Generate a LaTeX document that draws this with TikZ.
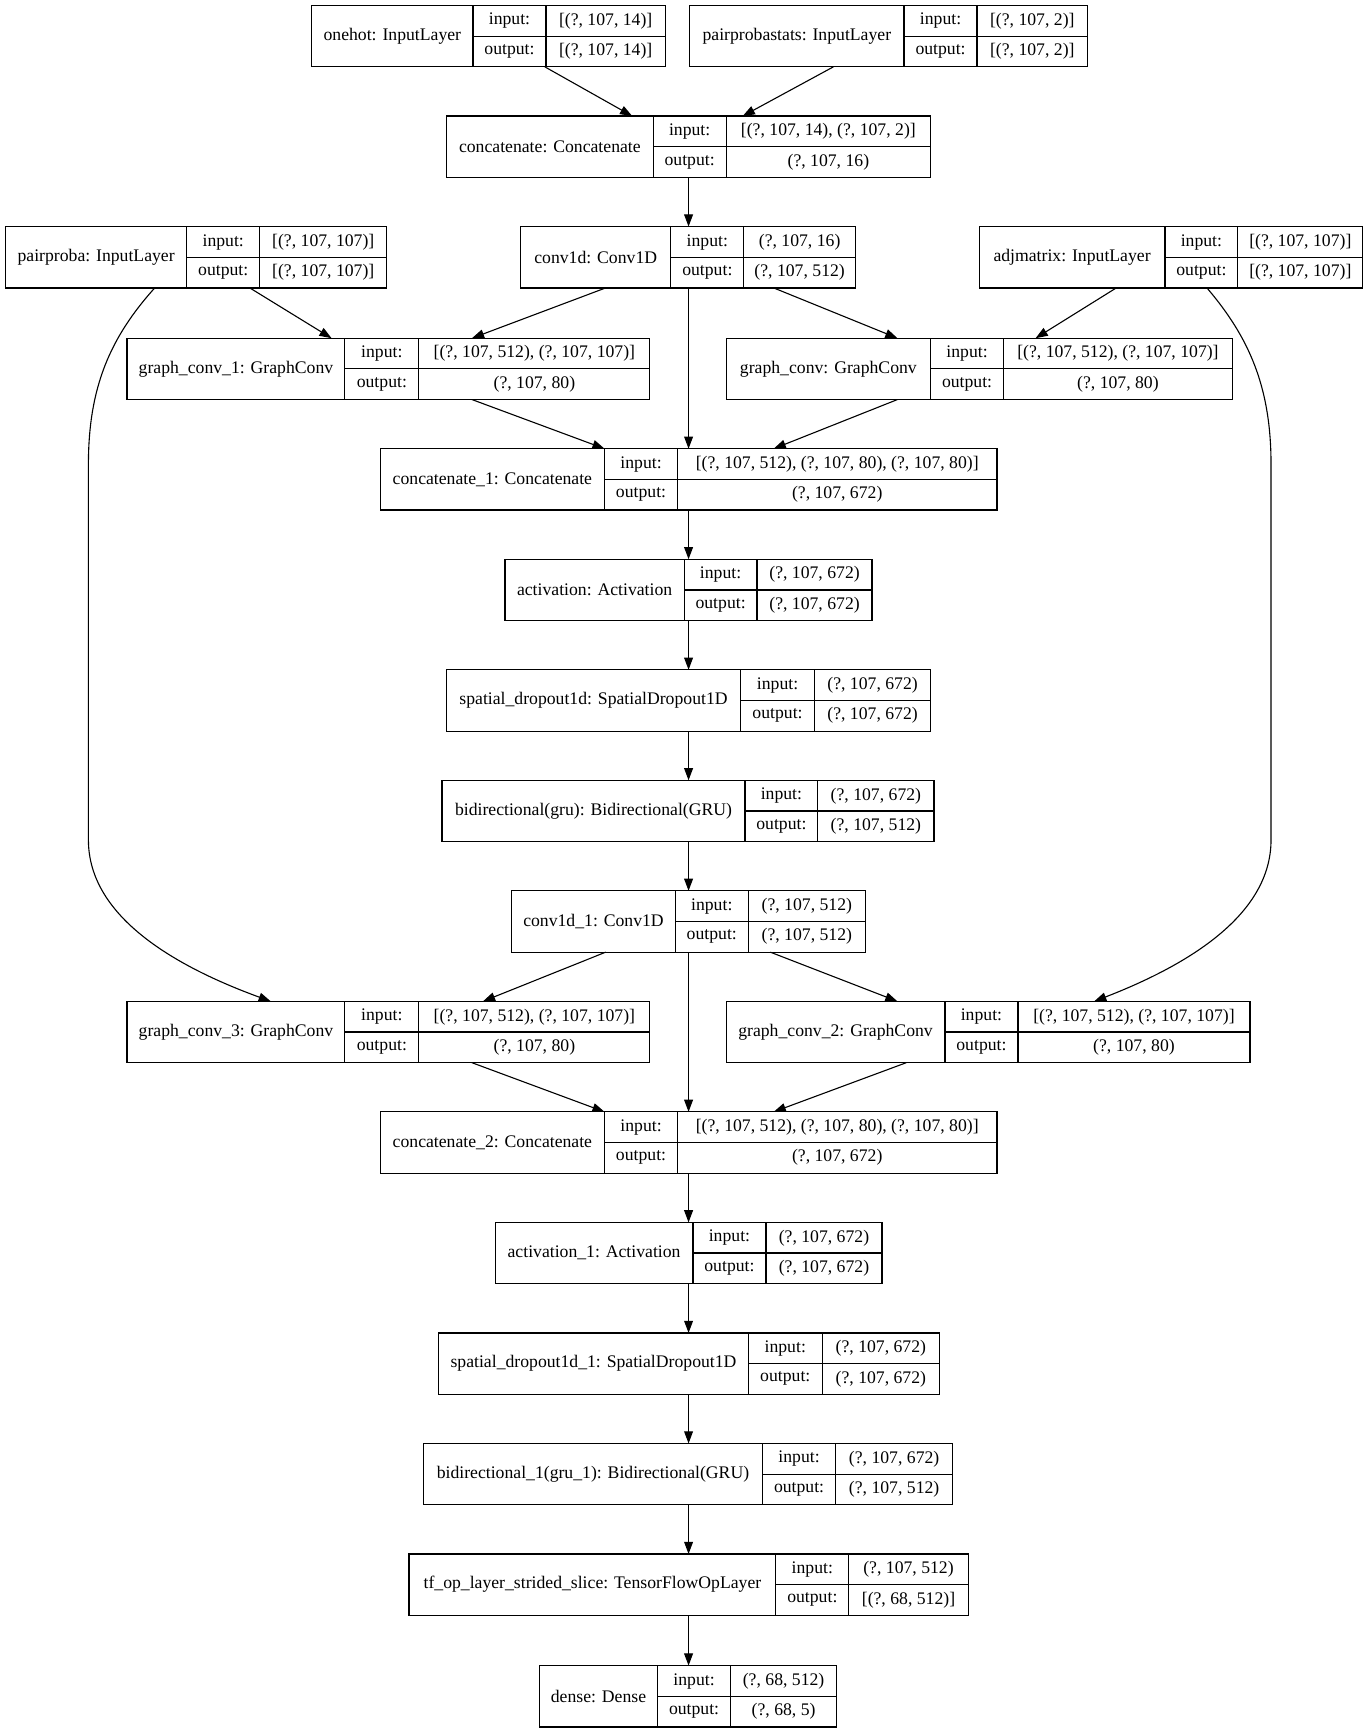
\documentclass[tikz,border=0pt]{standalone}
\usepackage{fontspec}
\setmainfont{Liberation Serif}
\usetikzlibrary{arrows.meta}
\tikzset{
  box/.style={draw, line width=1.1pt, inner sep=0pt, outer sep=0pt},
  cell/.style={inner sep=0pt, font=\fontsize{16}{19}\selectfont},
  arr/.style={line width=1pt, -{Triangle[length=11pt,width=8pt]}},
  sep/.style={line width=1.1pt}
}
% #1 name, #2 x1, #3 ytop, #4 x2, #5 s1, #6 s2, #7 title, #8 in, #9 out
\newcommand\layer[9]{%
  \node[box, minimum width={(#4-#2)*1pt}, minimum height=55.5pt] (#1) at ({(#2+#4)/2},{-(#3+27.75)}) {};
  \draw[sep] (#5,-#3) -- (#5,{-(#3+55.5)});
  \draw[sep] (#6,-#3) -- (#6,{-(#3+55.5)});
  \draw[sep] (#5,{-(#3+27.75)}) -- (#4,{-(#3+27.75)});
  \node[cell] (#1-t) at ({(#2+#5)/2},{-(#3+27.75)}) {#7};
  \node[cell] (#1-il) at ({(#5+#6)/2},{-(#3+14)}) {input:};
  \node[cell] (#1-ol) at ({(#5+#6)/2},{-(#3+41.5)}) {output:};
  \node[cell] (#1-iv) at ({(#6+#4)/2},{-(#3+14)}) {#8};
  \node[cell] (#1-ov) at ({(#6+#4)/2},{-(#3+41.5)}) {#9};
}
\begin{document}
\begin{tikzpicture}[x=1pt,y=1pt]
\useasboundingbox (0,0) rectangle (1239,-1568);
\fill[white] (0,0) rectangle (1239,-1568);

\layer{onehot}{282}{5}{602}{428}{494}{onehot: InputLayer}{[(?, 107, 14)]}{[(?, 107, 14)]}
\layer{pps}{624}{5}{984}{818}{884}{pairprobastats: InputLayer}{[(?, 107, 2)]}{[(?, 107, 2)]}
\layer{cat}{404}{105}{842}{591}{657}{concatenate: Concatenate}{[(?, 107, 14), (?, 107, 2)]}{(?, 107, 16)}
\layer{pp}{5}{205}{350}{169}{235}{pairproba: InputLayer}{[(?, 107, 107)]}{[(?, 107, 107)]}
\layer{conv}{471}{205}{774}{607}{673}{conv1d: Conv1D}{(?, 107, 16)}{(?, 107, 512)}
\layer{adj}{886}{205}{1233}{1054}{1120}{adjmatrix: InputLayer}{[(?, 107, 107)]}{[(?, 107, 107)]}
\layer{gc1}{115}{306}{588}{312}{379}{graph\_conv\_1: GraphConv}{[(?, 107, 512), (?, 107, 107)]}{(?, 107, 80)}
\layer{gc}{657}{306}{1115}{842}{908}{graph\_conv: GraphConv}{[(?, 107, 512), (?, 107, 107)]}{(?, 107, 80)}
\layer{cat1}{344}{406}{902}{547}{613}{concatenate\_1: Concatenate}{[(?, 107, 512), (?, 107, 80), (?, 107, 80)]}{(?, 107, 672)}
\layer{act}{457}{506}{789}{619}{685}{activation: Activation}{(?, 107, 672)}{(?, 107, 672)}
\layer{sd}{404}{606}{842}{670}{737}{spatial\_dropout1d: SpatialDropout1D}{(?, 107, 672)}{(?, 107, 672)}
\layer{bi}{400}{706}{845}{674}{740}{bidirectional(gru): Bidirectional(GRU)}{(?, 107, 672)}{(?, 107, 512)}
\layer{convb}{463}{806}{783}{611}{677}{conv1d\_1: Conv1D}{(?, 107, 512)}{(?, 107, 512)}
\layer{gc3}{115}{906}{588}{312}{379}{graph\_conv\_3: GraphConv}{[(?, 107, 512), (?, 107, 107)]}{(?, 107, 80)}
\layer{gc2}{657}{906}{1131}{855}{921}{graph\_conv\_2: GraphConv}{[(?, 107, 512), (?, 107, 107)]}{(?, 107, 80)}
\layer{cat2}{344}{1006}{902}{547}{613}{concatenate\_2: Concatenate}{[(?, 107, 512), (?, 107, 80), (?, 107, 80)]}{(?, 107, 672)}
\layer{actb}{448}{1106}{798}{627}{693}{activation\_1: Activation}{(?, 107, 672)}{(?, 107, 672)}
\layer{sdb}{397}{1206}{850}{677}{744}{spatial\_dropout1d\_1: SpatialDropout1D}{(?, 107, 672)}{(?, 107, 672)}
\layer{bib}{383}{1306}{862}{690}{756}{bidirectional\_1(gru\_1): Bidirectional(GRU)}{(?, 107, 672)}{(?, 107, 512)}
\layer{tf}{370}{1406}{876}{702}{768}{tf\_op\_layer\_strided\_slice: TensorFlowOpLayer}{(?, 107, 512)}{[(?, 68, 512)]}
\layer{dense}{488}{1507}{757}{595}{661}{dense: Dense}{(?, 68, 512)}{(?, 68, 5)}

% edges
\draw[arr] (onehot.south -| 493,0) -- (cat.north -| 572,0);
\draw[arr] (pps.south -| 754,0) -- (cat.north -| 672,0);
\draw[arr] (cat.south -| 623,0) -- (conv.north -| 623,0);
\draw[arr] (pp.south -| 226,0) -- (gc1.north -| 300,0);
\draw[arr] (conv.south -| 548,0) -- (gc1.north -| 427,0);
\draw[arr] (conv.south -| 700,0) -- (gc.north -| 812,0);
\draw[arr] (adj.south -| 1010,0) -- (gc.north -| 937,0);
\draw[arr] (conv.south -| 623,0) -- (cat1.north -| 623,0);
\draw[arr] (gc1.south -| 427,0) -- (cat1.north -| 547,0);
\draw[arr] (gc.south -| 812,0) -- (cat1.north -| 700,0);
\draw[arr] (pp.south -| 140,0) .. controls (100,-305) and (80,-350) .. (80,-420) -- (80,-760) .. controls (80,-830) and (160,-875) .. (gc3.north -| 245,0);
\draw[arr] (adj.south -| 1092,0) .. controls (1130,-305) and (1150,-350) .. (1150,-420) -- (1150,-760) .. controls (1150,-830) and (1070,-875) .. (gc2.north -| 990,0);
\draw[arr] (cat1.south -| 623,0) -- (act.north -| 623,0);
\draw[arr] (act.south -| 623,0) -- (sd.north -| 623,0);
\draw[arr] (sd.south -| 623,0) -- (bi.north -| 623,0);
\draw[arr] (bi.south -| 623,0) -- (convb.north -| 623,0);
\draw[arr] (convb.south -| 548,0) -- (gc3.north -| 437,0);
\draw[arr] (convb.south -| 697,0) -- (gc2.north -| 812,0);
\draw[arr] (convb.south -| 623,0) -- (cat2.north -| 623,0);
\draw[arr] (gc3.south -| 427,0) -- (cat2.north -| 547,0);
\draw[arr] (gc2.south -| 820,0) -- (cat2.north -| 700,0);
\draw[arr] (cat2.south -| 623,0) -- (actb.north -| 623,0);
\draw[arr] (actb.south -| 623,0) -- (sdb.north -| 623,0);
\draw[arr] (sdb.south -| 623,0) -- (bib.north -| 623,0);
\draw[arr] (bib.south -| 623,0) -- (tf.north -| 623,0);
\draw[arr] (tf.south -| 623,0) -- (dense.north -| 623,0);
\end{tikzpicture}
\end{document}
